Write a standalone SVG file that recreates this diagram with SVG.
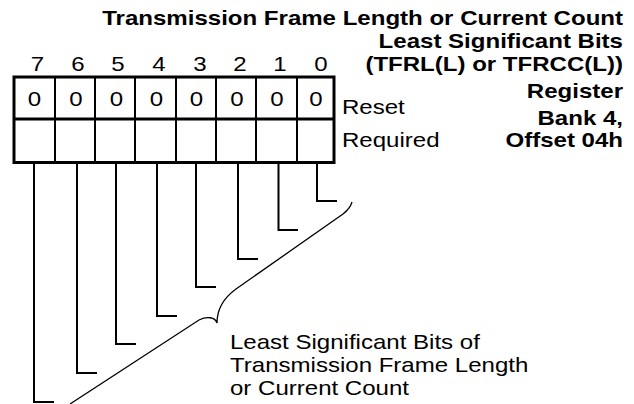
<svg xmlns="http://www.w3.org/2000/svg" width="634" height="404" viewBox="0 0 634 404">
<style>
text{font-family:"Liberation Sans",Arial,sans-serif;font-size:21px;fill:#000}
.b{font-weight:bold;text-anchor:end}
.m{text-anchor:middle}
.thick{fill:none;stroke:#000;stroke-width:3}
.div{stroke:#000;stroke-width:2}
.lead{fill:none;stroke:#000;stroke-width:2}
.brace{fill:none;stroke:#000;stroke-width:1.3}
</style>
<rect width="634" height="404" fill="#fff"/>
<g id="title">
<text class="b" transform="translate(623,25) scale(1.145,1)">Transmission Frame Length or Current Count</text>
<text class="b" transform="translate(623,48) scale(1.145,1)">Least Significant Bits</text>
<text class="b" transform="translate(623,71) scale(1.145,1)">(TFRL(L) or TFRCC(L))</text>
<text class="b" transform="translate(623,98) scale(1.145,1)">Register</text>
<text class="b" transform="translate(623,125) scale(1.145,1)">Bank 4,</text>
<text class="b" transform="translate(623,147) scale(1.145,1)">Offset 04h</text>
</g>
<g id="register">
<g id="bit-numbers">
<text class="m" transform="translate(37.5,71) scale(1.145,1)">7</text>
<text class="m" transform="translate(78,71) scale(1.145,1)">6</text>
<text class="m" transform="translate(118,71) scale(1.145,1)">5</text>
<text class="m" transform="translate(159,71) scale(1.145,1)">4</text>
<text class="m" transform="translate(200,71) scale(1.145,1)">3</text>
<text class="m" transform="translate(240,71) scale(1.145,1)">2</text>
<text class="m" transform="translate(280,71) scale(1.145,1)">1</text>
<text class="m" transform="translate(321,71) scale(1.145,1)">0</text>
</g>
<line class="div" x1="55" y1="77" x2="55" y2="162"/>
<line class="div" x1="95" y1="77" x2="95" y2="162"/>
<line class="div" x1="135" y1="77" x2="135" y2="162"/>
<line class="div" x1="176" y1="77" x2="176" y2="162"/>
<line class="div" x1="216" y1="77" x2="216" y2="162"/>
<line class="div" x1="256" y1="77" x2="256" y2="162"/>
<line class="div" x1="297" y1="77" x2="297" y2="162"/>
<line class="thick" x1="14" y1="119" x2="334" y2="119"/>
<rect class="thick" x="14" y="77" width="320" height="85.5"/>
<g id="reset-values">
<text class="m" transform="translate(34.5,105.5) scale(1.145,1)">0</text>
<text class="m" transform="translate(76,105.5) scale(1.145,1)">0</text>
<text class="m" transform="translate(116.5,105.5) scale(1.145,1)">0</text>
<text class="m" transform="translate(156.5,105.5) scale(1.145,1)">0</text>
<text class="m" transform="translate(196.5,105.5) scale(1.145,1)">0</text>
<text class="m" transform="translate(237,105.5) scale(1.145,1)">0</text>
<text class="m" transform="translate(277,105.5) scale(1.145,1)">0</text>
<text class="m" transform="translate(316,105.5) scale(1.145,1)">0</text>
</g>
</g>
<g id="row-labels">
<text transform="translate(342,113.5) scale(1.145,1)">Reset</text>
<text transform="translate(342,147) scale(1.145,1)">Required</text>
</g>
<g id="connectors">
<path class="lead" d="M317,163 V201 H337"/>
<path class="lead" d="M278.5,163 V230 H298"/>
<path class="lead" d="M238,163 V259 H258"/>
<path class="lead" d="M196,163 V287 H216"/>
<path class="lead" d="M157,163 V316 H177"/>
<path class="lead" d="M116,163 V344 H136"/>
<path class="lead" d="M77,163 V373 H97"/>
<path class="lead" d="M34,163 V402 H54"/>
<path class="brace" d="M352,202 C351,206 348,210 343,214 L236,289 C225,297 217,309 217,323 C215,317 207,316 199,320 L70,404"/>
</g>
<g id="caption">
<text transform="translate(230,349) scale(1.145,1)">Least Significant Bits of</text>
<text transform="translate(230,372) scale(1.145,1)">Transmission Frame Length</text>
<text transform="translate(230,395) scale(1.145,1)">or Current Count</text>
</g>
</svg>
